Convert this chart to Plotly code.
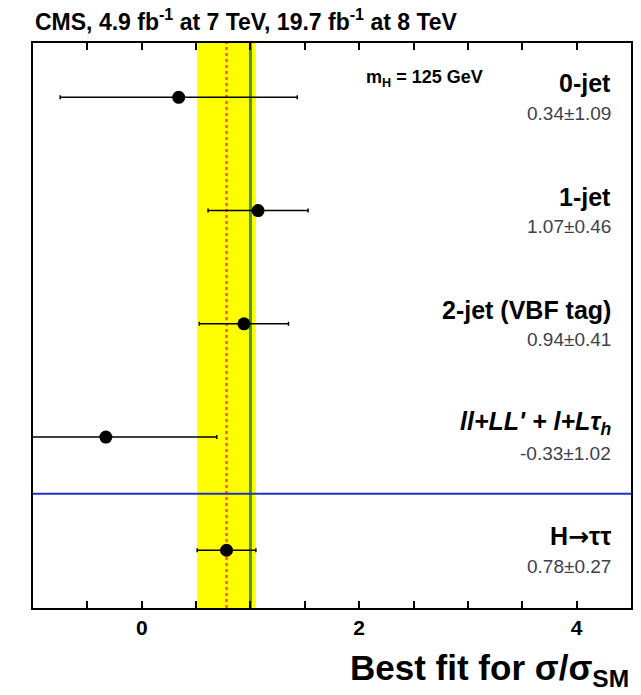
import plotly.graph_objects as go

# Signal strength per channel (m_H = 125 GeV)
channels = ["0-jet", "1-jet", "2-jet (VBF tag)", "<i>ll+LL' + l+Lτ<sub>h</sub></i>",
            "H<span style='font-family:DejaVu Sans'>→</span>ττ"]
mu = [0.34, 1.07, 0.94, -0.33, 0.78]
mu_err = [1.09, 0.46, 0.41, 1.02, 0.27]
rows = [5, 4, 3, 2, 1]

combined_mu = 0.78
combined_err = 0.27
sm_value = 1.0

x_ticks = [-0.5, 0, 0.5, 1, 1.5, 2, 2.5, 3, 3.5, 4]
x_labels = {0: "0", 2: "2", 4: "4"}

FONT = "Liberation Sans, Arial, sans-serif"

fig = go.Figure()

# Combined +-1 sigma band
fig.add_shape(type="rect", xref="x", yref="paper",
              x0=combined_mu - combined_err, x1=combined_mu + combined_err,
              y0=0, y1=1, fillcolor="#ffff00", line_width=0, layer="below")
# SM expectation
fig.add_shape(type="line", xref="x", yref="paper", x0=sm_value, x1=sm_value,
              y0=0, y1=1, line=dict(color="#4e9a06", width=3), layer="below")
# Combined best fit
fig.add_shape(type="line", xref="x", yref="paper", x0=combined_mu, x1=combined_mu,
              y0=0, y1=1, line=dict(color="#ff5a1a", width=2.5, dash="dot"), layer="below")
# Separator between channels and the combination
fig.add_shape(type="line", xref="paper", yref="y", x0=0, x1=1, y0=1.5, y1=1.5,
              line=dict(color="#2030c8", width=2))

fig.add_trace(go.Scatter(
    x=mu, y=rows, mode="markers",
    marker=dict(color="black", size=13),
    error_x=dict(type="data", array=mu_err, color="black", thickness=1.5, width=2),
    cliponaxis=True, showlegend=False,
))

for name, m, e, r in zip(channels, mu, mu_err, rows):
    fig.add_annotation(x=0.97, xref="paper", y=r, yref="y", yshift=14,
                       text=f"<b>{name}</b>", showarrow=False, xanchor="right",
                       font=dict(family=FONT, size=25, color="black"))
    fig.add_annotation(x=0.97, xref="paper", y=r, yref="y", yshift=-16,
                       text=f"{m:.2f}±{e:.2f}", showarrow=False, xanchor="right",
                       font=dict(family=FONT, size=19, color="#3c4050"))

fig.add_annotation(x=0.553, xref="paper", y=5, yref="y", yshift=19,
                   text="<b>m<sub>H</sub> = 125 GeV</b>", showarrow=False, xanchor="left",
                   font=dict(family=FONT, size=18, color="black"))

fig.add_annotation(x=0.0, xref="paper", y=1.0, yref="paper", yshift=6,
                   text="<b>CMS, 4.9 fb<sup>-1</sup> at 7 TeV, 19.7 fb<sup>-1</sup> at 8 TeV</b>",
                   showarrow=False, xanchor="left", yanchor="bottom",
                   font=dict(family=FONT, size=23, color="black"))

fig.add_annotation(x=1.0, xref="paper", y=0, yref="paper", yshift=-38,
                   text="<b>Best fit for σ/σ<sub>SM</sub></b>",
                   showarrow=False, xanchor="right", yanchor="top",
                   font=dict(family=FONT, size=35, color="black"))

fig.update_layout(
    width=641, height=695,
    margin=dict(l=33, r=8, t=43, b=87),
    plot_bgcolor="white", paper_bgcolor="white",
    xaxis=dict(range=[-1, 4.5], showgrid=False, zeroline=False,
               showline=True, linecolor="black", linewidth=2, mirror="ticks",
               ticks="inside", ticklen=7, tickwidth=1.5, tickcolor="black",
               tickvals=x_ticks, ticktext=[x_labels.get(v, "") for v in x_ticks],
               tickfont=dict(family=FONT, size=21, color="black", weight="bold")),
    yaxis=dict(range=[0.49, 5.48], showgrid=False, zeroline=False,
               showline=True, linecolor="black", linewidth=2, mirror=True,
               showticklabels=False, ticks=""),
)

fig.write_html("out.html")
